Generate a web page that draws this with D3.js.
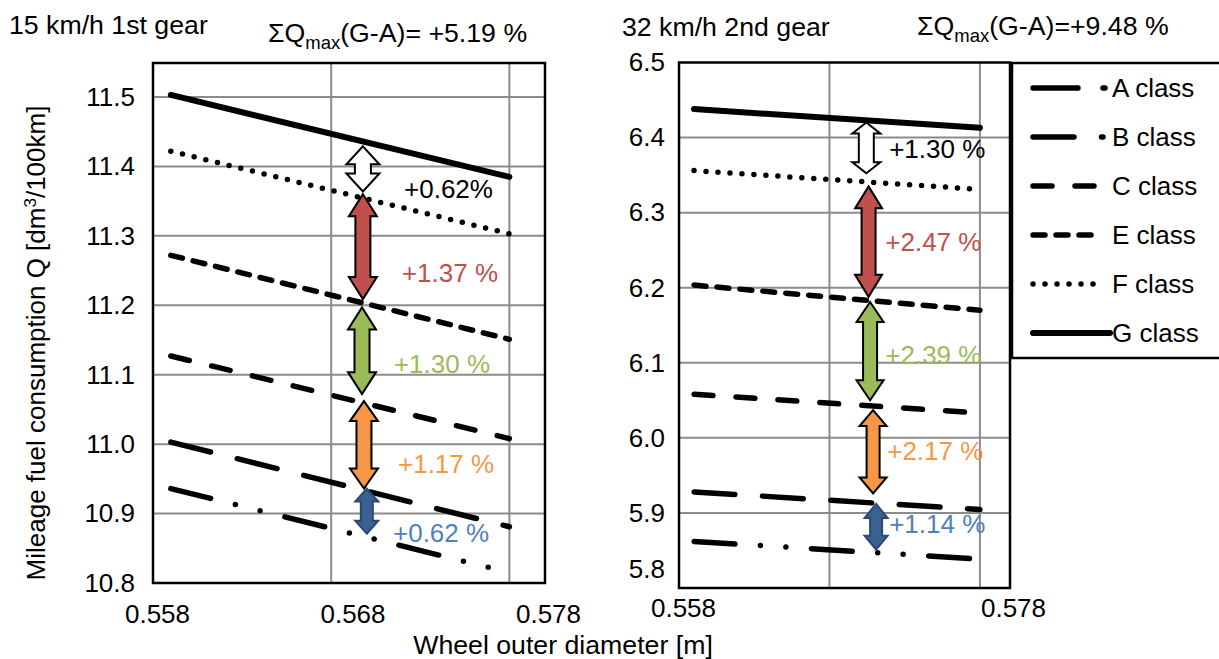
<!DOCTYPE html>
<html><head><meta charset="utf-8">
<script src="https://cdn.jsdelivr.net/npm/d3@7"></script>
<style>body{margin:0;background:#fff} svg text{font-family:"Liberation Sans",Arial,sans-serif}</style>
</head><body><svg id="c" width="1219" height="659"></svg>
<script>
// ---------------- data ----------------
const classNames = ["A class", "B class", "C class", "E class", "F class", "G class"];
const diameters = [0.559, 0.578];

// 15 km/h 1st gear
const gear1A = [10.936, 10.815];
const gear1B = [11.003, 10.881];
const gear1C = [11.127, 11.008];
const gear1E = [11.272, 11.151];
const gear1F = [11.422, 11.303];
const gear1G = [11.503, 11.385];

// 32 km/h 2nd gear
const gear2A = [5.862, 5.8385];
const gear2B = [5.928, 5.9045];
const gear2C = [6.058, 6.033];
const gear2E = [6.2035, 6.170];
const gear2F = [6.356, 6.331];
const gear2G = [6.438, 6.413];

const yTicks1 = [10.8, 10.9, 11.0, 11.1, 11.2, 11.3, 11.4, 11.5];
const yTicks2 = [5.8, 5.9, 6.0, 6.1, 6.2, 6.3, 6.4, 6.5];
const xTickLabels1 = [0.558, 0.568, 0.578];
const xTickLabels2 = [0.558, 0.578];
const xGrid = [0.568, 0.578];

// difference arrows (G-F, F-E, E-C, C-B, B-A)
const arrowLabels1 = ["+0.62%", "+1.37 %", "+1.30 %", "+1.17 %", "+0.62 %"];
const arrowTop1 = [11.429, 11.360, 11.197, 11.062, 10.936];
const arrowBottom1 = [11.364, 11.209, 11.072, 10.936, 10.871];
const arrowX1 = [0.56978, 0.56978, 0.56973, 0.56984, 0.5700];
const labelX1 = [0.57209, 0.57197, 0.57152, 0.57175, 0.57147];
const labelY1 = [11.355, 11.234, 11.103, 10.959, 10.859];

const arrowLabels2 = ["+1.30 %", "+2.47 %", "+2.39 %", "+2.17 %", "+1.14 %"];
const arrowTop2 = [6.420, 6.335, 6.181, 6.037, 5.912];
const arrowBottom2 = [6.3525, 6.188, 6.050, 5.926, 5.851];
const arrowX2 = [0.57045, 0.5706, 0.5707, 0.5709, 0.5711];
const labelX2 = [0.57197, 0.57171, 0.57171, 0.57184, 0.57197];
const labelY2 = [6.3733, 6.2493, 6.0987, 5.9707, 5.8733];

// ---------------- styles ----------------
const FONT = 26;
const TFONT = 26.7;
const dashStyles = ["41,25.5,0,25.5,0,25.5", "41,27.5", "19,23", "12,11", "0,12", null];
const arrowFills = ["#ffffff", "#c0504d", "#9bbb59", "#f79646", "#3b6192"];
const arrowStrokes = ["#000", "#000", "#000", "#000", "#2b4a72"];
const labelColors = ["#000000", "#c0504d", "#9bbb59", "#f79646", "#4f81bd"];
const arrowGeom1 = [[33, 18, 16], [28, 22, 15], [28, 22, 15], [28, 20, 15], [23, 13, 12]];
const arrowGeom2 = [[28, 11, 15], [27, 22, 14], [27, 20, 14], [27, 16, 13], [23, 14, 12]];

const svg = d3.select("#c");

function arrowPath(cx, top, bot, hw, hh, sw) {
  const p = [[cx, top], [cx + hw / 2, top + hh], [cx + sw / 2, top + hh], [cx + sw / 2, bot - hh],
    [cx + hw / 2, bot - hh], [cx, bot], [cx - hw / 2, bot - hh], [cx - sw / 2, bot - hh],
    [cx - sw / 2, top + hh], [cx - hw / 2, top + hh]];
  return "M" + p.map(d => d.join(",")).join("L") + "Z";
}

function panel(cfg) {
  const g = svg.append("g");
  const x = d3.scaleLinear().domain([0.558, 0.580]).range([cfg.x0, cfg.x1]);
  const y = d3.scaleLinear().domain(cfg.yDomain).range([cfg.y1, cfg.y0]);
  const xl = d3.scaleLinear().domain([0.558, 0.578]).range([cfg.x0 + 4, cfg.x1 + 3]);

  // gridlines
  g.selectAll(".hg").data(cfg.yTicks.filter(v => y(v) > cfg.y0 + 1 && y(v) < cfg.y1 - 1)).join("line")
    .attr("x1", cfg.x0).attr("x2", cfg.x1).attr("y1", d => y(d)).attr("y2", d => y(d))
    .attr("stroke", "#8c8c8c").attr("stroke-width", 2);
  g.selectAll(".vg").data(xGrid).join("line")
    .attr("x1", d => x(d)).attr("x2", d => x(d)).attr("y1", cfg.y0).attr("y2", cfg.y1)
    .attr("stroke", "#8c8c8c").attr("stroke-width", 2);

  // series
  const line = d3.line().x((d, i) => x(diameters[i])).y(d => y(d));
  cfg.series.forEach((s, i) => {
    g.append("path").attr("d", line(s)).attr("fill", "none").attr("stroke", "#000")
      .attr("stroke-width", i === 5 ? 6 : 5.5).attr("stroke-linecap", "round")
      .attr("stroke-dasharray", dashStyles[i]);
  });

  // arrows
  cfg.arrowTop.forEach((t, i) => {
    const [hw, hh, sw] = cfg.geom[i];
    g.append("path").attr("d", arrowPath(x(cfg.arrowX[i]), y(t), y(cfg.arrowBottom[i]), hw, hh, sw))
      .attr("fill", arrowFills[i]).attr("stroke", arrowStrokes[i]).attr("stroke-width", 2)
      .attr("stroke-linejoin", "miter");
    g.append("text").attr("x", x(cfg.labelX[i])).attr("y", y(cfg.labelY[i]))
      .attr("font-size", FONT).attr("fill", labelColors[i]).text(cfg.labels[i]);
  });

  // frame
  g.append("rect").attr("x", cfg.x0).attr("y", cfg.y0).attr("width", cfg.x1 - cfg.x0)
    .attr("height", cfg.y1 - cfg.y0).attr("fill", "none").attr("stroke", "#000").attr("stroke-width", 2.5);

  // y axis labels
  const ya = g.append("g").attr("transform", `translate(${cfg.x0},0)`)
    .call(d3.axisLeft(y).tickValues(cfg.yTicks).tickSize(0).tickPadding(cfg.yPad).tickFormat(d3.format(".1f")));
  ya.select(".domain").remove();
  ya.selectAll("text").attr("font-size", FONT).attr("fill", "#000")
    .style("font-family", '"Liberation Sans",Arial,sans-serif')
    .attr("transform", d => cfg.yShift && cfg.yShift[d] ? `translate(0,${cfg.yShift[d]})` : null);

  // x axis labels
  const xa = g.append("g").attr("transform", `translate(0,${cfg.y1})`)
    .call(d3.axisBottom(xl).tickValues(cfg.xLabels).tickSize(0).tickPadding(cfg.xPad).tickFormat(d3.format(".3f")));
  xa.select(".domain").remove();
  xa.selectAll("text").attr("font-size", FONT).attr("fill", "#000")
    .style("font-family", '"Liberation Sans",Arial,sans-serif');

  // titles
  svg.append("text").attr("x", cfg.titleX).attr("y", cfg.titleY).attr("font-size", TFONT).text(cfg.title);
  const st = svg.append("text").attr("x", cfg.sumX).attr("y", cfg.sumY).attr("font-size", TFONT);
  st.append("tspan").text("ΣQ");
  st.append("tspan").attr("font-size", 18.5).attr("dy", 7).text("max");
  st.append("tspan").attr("dy", -7).text(cfg.sumText);
}

panel({
  x0: 153, x1: 545, y0: 63, y1: 583, yDomain: [10.8, 11.549],
  yTicks: yTicks1, xLabels: xTickLabels1, yPad: 18, xPad: 21.5,
  series: [gear1A, gear1B, gear1C, gear1E, gear1F, gear1G],
  arrowTop: arrowTop1, arrowBottom: arrowBottom1, arrowX: arrowX1, labelX: labelX1, labelY: labelY1,
  labels: arrowLabels1, geom: arrowGeom1,
  title: "15 km/h 1st gear", titleX: 9, titleY: 34, sumX: 268, sumY: 42, sumText: "(G-A)= +5.19 %"
});
panel({
  x0: 679, x1: 1010, y0: 62.5, y1: 588, yDomain: [5.8, 6.5],
  yTicks: yTicks2, xLabels: xTickLabels2, yPad: 14, xPad: 10.5, yShift: {5.8: -19},
  series: [gear2A, gear2B, gear2C, gear2E, gear2F, gear2G],
  arrowTop: arrowTop2, arrowBottom: arrowBottom2, arrowX: arrowX2, labelX: labelX2, labelY: labelY2,
  labels: arrowLabels2, geom: arrowGeom2,
  title: "32 km/h 2nd gear", titleX: 622, titleY: 36, sumX: 917, sumY: 35, sumText: "(G-A)=+9.48 %"
});

// axis titles
svg.append("text").attr("x", 563).attr("y", 654).attr("text-anchor", "middle").attr("font-size", TFONT)
  .text("Wheel outer diameter [m]");
const yt = svg.append("text").attr("transform", "translate(45,343) rotate(-90)")
  .attr("text-anchor", "middle").attr("font-size", FONT);
yt.append("tspan").text("Mileage fuel consumption Q [dm");
yt.append("tspan").attr("font-size", 17).attr("dy", -9).text("3");
yt.append("tspan").attr("dy", 9).text("/100km]");

// legend
const lg = svg.append("g");
lg.append("rect").attr("x", 1012).attr("y", 63).attr("width", 230).attr("height", 295)
  .attr("fill", "#fff").attr("stroke", "#000").attr("stroke-width", 2.5);
const legendY = d3.scalePoint().domain(classNames).range([88, 333]);
const legendEnds = [1105, 1103, 1097, 1097, 1094, 1110];
classNames.forEach((c, i) => {
  lg.append("line").attr("x1", 1033).attr("x2", legendEnds[i]).attr("y1", legendY(c)).attr("y2", legendY(c))
    .attr("stroke", "#000").attr("stroke-width", i === 5 ? 6 : 5.5).attr("stroke-linecap", "round")
    .attr("stroke-dasharray", i === 0 ? "45,25" : dashStyles[i]);
  lg.append("text").attr("x", 1112).attr("y", legendY(c) + 9).attr("font-size", FONT).text(c);
});
</script></body></html>
